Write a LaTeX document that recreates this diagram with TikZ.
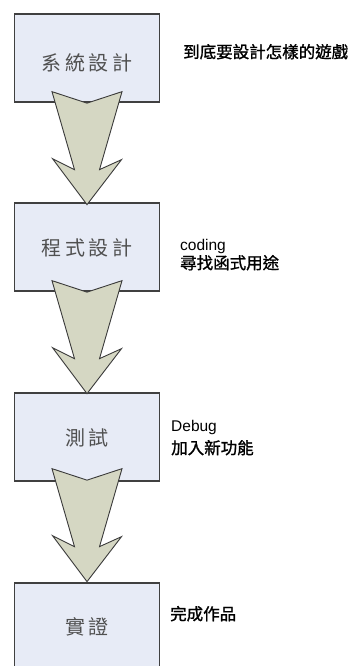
\documentclass[tikz,border=0pt]{standalone}
\usepackage{fontspec}
\setmainfont{Liberation Sans}
\newfontfamily\cjk{Noto Sans CJK TC}
\newfontfamily\cjknotefont[FakeBold=1.2]{Noto Sans CJK TC}
\definecolor{boxfill}{HTML}{E7EBF6}
\definecolor{boxline}{HTML}{404040}
\definecolor{arrowfill}{HTML}{D5D7C3}
\definecolor{arrowline}{HTML}{3A3A3A}
\definecolor{stagegray}{HTML}{505050}
\begin{document}
\begin{tikzpicture}[x=1pt,y=-1pt,
  stagebox/.style={rectangle, draw=boxline, fill=boxfill, line width=1.3pt,
    minimum width=145pt, minimum height=88pt, inner sep=0pt},
  stagetext/.style={inner sep=0pt, text=stagegray, font=\cjk\fontsize{20}{20}\selectfont},
  note/.style={anchor=base west, inner sep=0pt, text=black, font=\fontsize{15.5}{18}\selectfont},
  cjknote/.style={anchor=base west, inner sep=0pt, text=black, font=\cjknotefont\fontsize{16.5}{18}\selectfont},
  bigarrow/.pic={
    \draw[fill=arrowfill, draw=arrowline, line width=0.9pt, line join=miter]
      (-35,0) -- (0,11.5) -- (35,0) -- (12.5,78) -- (34.5,68) -- (0,113)
      -- (-34.5,67) -- (-12.5,78) -- cycle;
  }]
\useasboundingbox (0,0) rectangle (356,666);
\clip (0,0) rectangle (356,666);
\fill[white] (0,0) rectangle (356,666);

\node[stagebox] (b1) at (87,58) {};
\node[stagebox] (b2) at (87,247) {};
\node[stagebox] (b3) at (87,437) {};
\node[stagebox] (b4) at (87,627) {};

\node[stagetext] (t1) at (87,63) {系\hspace{3.5pt}統\hspace{3.5pt}設\hspace{3.5pt}計};
\node[stagetext] (t2) at (87,248) {程\hspace{3.5pt}式\hspace{3.5pt}設\hspace{3.5pt}計};
\node[stagetext] (t3) at (87,438) {測\hspace{3.5pt}試};
\node[stagetext] (t4) at (87,627) {實\hspace{3.5pt}證};

\pic at ([yshift=11pt]b1.south) {bigarrow};
\pic at ([yshift=11pt]b2.south) {bigarrow};
\pic at ([yshift=13pt]b3.south) {bigarrow};

\node[cjknote] (n1) at (183,58) {到底要設計怎樣的遊戲};
\node[note] (n2a) at (180,250) {coding};
\node[cjknote] (n2b) at (180,269) {尋找函式用途};
\node[note] (n3a) at (171,431) {Debug};
\node[cjknote] (n3b) at (171,454) {加入新功能};
\node[cjknote] (n4) at (170,620) {完成作品};
\end{tikzpicture}
\end{document}
